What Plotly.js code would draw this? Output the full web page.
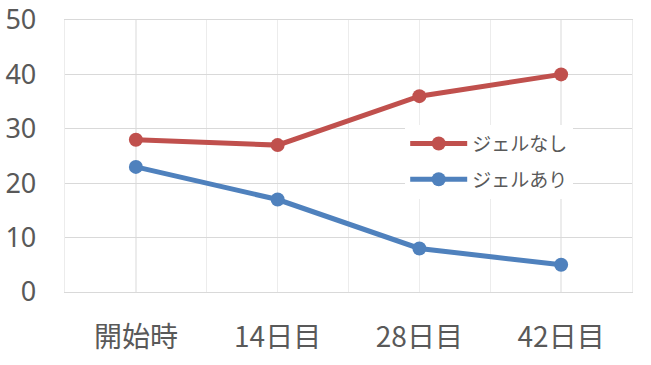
<!DOCTYPE html>
<html><head><meta charset="utf-8">
<script src="https://cdn.plot.ly/plotly-3.0.1.min.js"></script>
<style>html,body{margin:0;padding:0;background:#fff;}#chart{width:651px;height:365px;}</style>
</head><body><div id="chart"></div>
<script>
const categories = ["開始時", "14日目", "28日目", "42日目"];
const seriesNames = ["ジェルなし", "ジェルあり"];
const noGel = [28, 27, 36, 40];
const withGel = [23, 17, 8, 5];
const yTicks = [0, 10, 20, 30, 40, 50];

const xIdx = categories.map((c, i) => i);
const font = "'Noto Sans CJK JP', 'Noto Sans', sans-serif";

const traces = [
  {x: xIdx, y: noGel, name: seriesNames[0], type: "scatter", mode: "lines+markers",
   line: {color: "#C0504D", width: 5}, marker: {color: "#C0504D", size: 14}, legendgroup: "a"},
  {x: xIdx, y: withGel, name: seriesNames[1], type: "scatter", mode: "lines+markers",
   line: {color: "#4F81BD", width: 5}, marker: {color: "#4F81BD", size: 14}, legendgroup: "b"}
];

const layout = {
  width: 651, height: 365,
  margin: {l: 65, r: 19, t: 20, b: 73},
  paper_bgcolor: "#fff", plot_bgcolor: "#fff",
  font: {family: font, color: "#595959", size: 26},
  showlegend: true,
  legend: {x: 0.6, y: 0.615, xanchor: "left", yanchor: "top", bgcolor: "#ffffff",
           font: {size: 19, color: "#595959"}, traceorder: "grouped", tracegroupgap: 8,
           itemwidth: 57},
  xaxis: {
    type: "linear", range: [-0.5, 3.5], tickvals: xIdx, ticktext: categories,
    showgrid: true, gridcolor: "#ececec", gridwidth: 1.3,
    minor: {dtick: 0.5, tick0: -0.5, showgrid: true, gridcolor: "#ececec", gridwidth: 1.3},
    zeroline: false, showline: true, mirror: true, linecolor: "#d9d9d9", linewidth: 1.3,
    ticks: "", ticklabelstandoff: 20, ticklabeloverflow: "allow",
    tickfont: {size: 28, color: "#595959"}
  },
  yaxis: {
    range: [0, 50], tickvals: yTicks,
    showgrid: true, gridcolor: "#d9d9d9", gridwidth: 1.3, zeroline: false,
    showline: true, mirror: true, linecolor: "#ececec", linewidth: 1.3,
    ticks: "", ticklabelstandoff: 22, ticklabeloverflow: "allow",
    tickfont: {family: "'Noto Sans', sans-serif", size: 27, color: "#595959"}
  }
};

Plotly.newPlot("chart", traces, layout, {staticPlot: true, displayModeBar: false});
</script>
</body></html>
